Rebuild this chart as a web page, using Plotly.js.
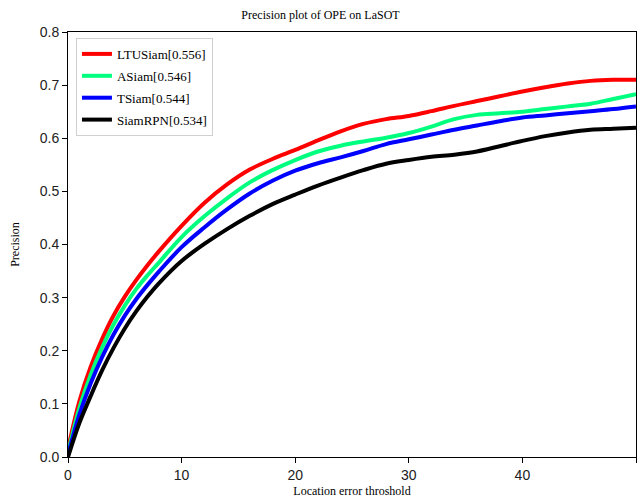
<!DOCTYPE html>
<html>
<head>
<meta charset="utf-8">
<script src="https://cdn.plot.ly/plotly-3.0.1.min.js"></script>
<style>
  html, body { margin: 0; padding: 0; background: #fff; }
  #chart { width: 641px; height: 500px; }
</style>
</head>
<body>
<div id="chart"></div>
<script>
// Location error thresholds (pixels)
const thresholds = [0, 1, 2, 3, 4, 5, 6, 7, 8, 10, 12, 14, 16, 18, 20, 22, 24, 26, 28, 30,
                    32, 34, 36, 38, 40, 42, 44, 46, 48, 50];

// Precision of each tracker at those thresholds
const ltuSiam  = [0.015, 0.105, 0.170, 0.222, 0.266, 0.302, 0.333, 0.361, 0.387, 0.435, 0.478, 0.513,
                  0.541, 0.561, 0.578, 0.596, 0.613, 0.627, 0.636, 0.642, 0.651, 0.661, 0.670, 0.679,
                  0.688, 0.696, 0.703, 0.708, 0.710, 0.710];
const aSiam    = [0.008, 0.092, 0.155, 0.206, 0.249, 0.285, 0.316, 0.342, 0.366, 0.414, 0.453, 0.487,
                  0.517, 0.540, 0.559, 0.575, 0.586, 0.594, 0.601, 0.610, 0.622, 0.636, 0.644, 0.647,
                  0.650, 0.655, 0.660, 0.665, 0.674, 0.683];
const tSiam    = [0.004, 0.080, 0.139, 0.188, 0.230, 0.266, 0.297, 0.324, 0.349, 0.395, 0.432, 0.466,
                  0.496, 0.520, 0.539, 0.553, 0.564, 0.576, 0.589, 0.598, 0.607, 0.616, 0.624, 0.632,
                  0.639, 0.643, 0.647, 0.651, 0.655, 0.660];
const siamRPN  = [0.000, 0.064, 0.115, 0.163, 0.205, 0.242, 0.274, 0.302, 0.327, 0.369, 0.401, 0.429,
                  0.454, 0.476, 0.494, 0.511, 0.526, 0.540, 0.552, 0.559, 0.565, 0.569, 0.575, 0.585,
                  0.595, 0.604, 0.611, 0.616, 0.618, 0.620];

const trackerNames  = ['LTUSiam[0.556]', 'ASiam[0.546]', 'TSiam[0.544]', 'SiamRPN[0.534]'];
const trackerSeries = [ltuSiam, aSiam, tSiam, siamRPN];
const trackerColors = ['#ff0000', '#00ff7f', '#0000ff', '#000000'];

const xTicks = [0, 10, 20, 30, 40, 50];
const yTicks = [0, 0.1, 0.2, 0.3, 0.4, 0.5, 0.6, 0.7, 0.8];

const serif = 'Liberation Serif, Times New Roman, serif';
const sans  = 'Liberation Sans, Arial, sans-serif';

// one legend group per tracker so the group gap spaces the legend rows
const traces = trackerSeries.map((ys, i) => ({
  type: 'scatter',
  mode: 'lines',
  name: trackerNames[i],
  legendgroup: 'g' + i,
  x: thresholds,
  y: ys,
  line: { color: trackerColors[i], width: 4, shape: 'spline', smoothing: 1 }
}));

const axisCommon = {
  showline: true,
  mirror: true,
  linecolor: '#000',
  linewidth: 1,
  showgrid: false,
  zeroline: false,
  ticks: 'outside',
  ticklen: 5,
  tickwidth: 1,
  tickcolor: '#000',
  tickfont: { family: sans, size: 14, color: '#222' }
};

const layout = {
  width: 641,
  height: 500,
  margin: { l: 68, r: 5, t: 32, b: 43 },
  paper_bgcolor: '#fff',
  plot_bgcolor: '#fff',
  title: {
    text: 'Precision plot of OPE on LaSOT',
    font: { family: serif, size: 12, color: '#000' },
    x: 0.5, xanchor: 'center',
    y: 0.97, yanchor: 'middle'
  },
  xaxis: Object.assign({}, axisCommon, {
    range: [0, 50],
    tickvals: xTicks,
    ticktext: xTicks.map(String),
    title: { text: 'Location error throshold', font: { family: serif, size: 12, color: '#000' }, standoff: 4 }
  }),
  yaxis: Object.assign({}, axisCommon, {
    range: [0, 0.8],
    tickvals: yTicks,
    ticktext: yTicks.map(v => v.toFixed(1)),
    title: { text: 'Precision', font: { family: serif, size: 12, color: '#000' }, standoff: 17 }
  }),
  legend: {
    x: 0.014, y: 0.986,
    xanchor: 'left', yanchor: 'top',
    bgcolor: 'rgba(255,255,255,0.8)',
    bordercolor: '#d0d0d0',
    borderwidth: 1,
    tracegroupgap: 2,
    font: { family: serif, size: 13, color: '#000' }
  },
  showlegend: true
};

Plotly.newPlot('chart', traces, layout, { displayModeBar: false, staticPlot: true });
</script>
</body>
</html>
